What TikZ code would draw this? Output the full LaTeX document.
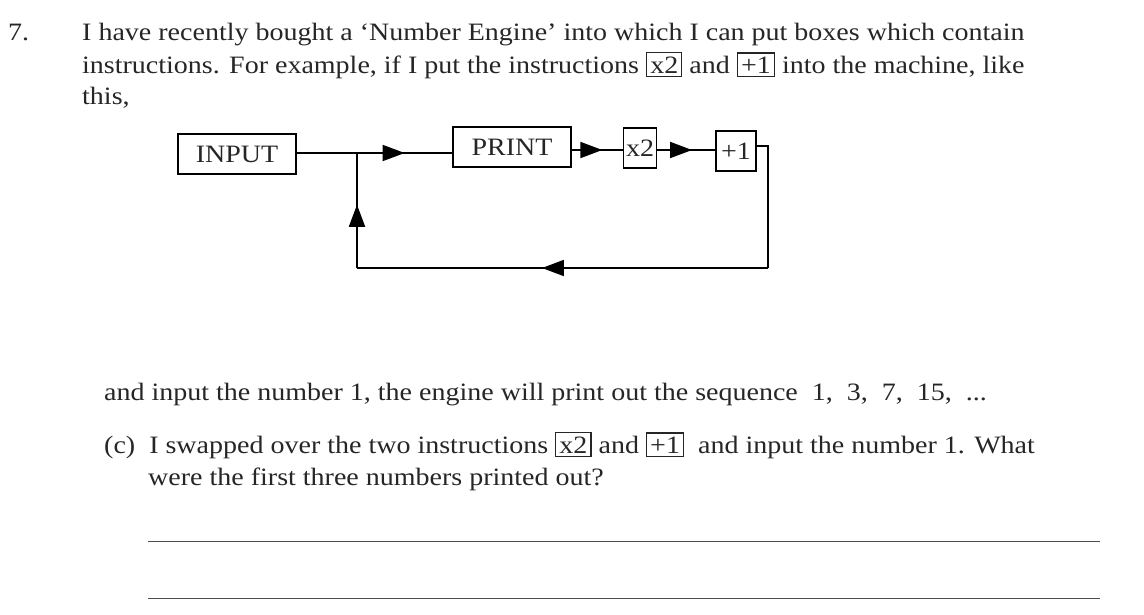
\documentclass[tikz,border=0pt]{standalone}
\usepackage{fontspec}
\setmainfont[FakeStretch=1.12]{Liberation Serif}
\usetikzlibrary{decorations.markings,arrows.meta}
\newcommand{\ibox}[1]{{\setlength{\fboxsep}{3pt}\setlength{\fboxrule}{1.2pt}\fbox{#1}}}
\begin{document}
\begin{tikzpicture}[x=1pt,y=-1pt,
  txt/.style={anchor=base west,inner sep=0pt,font=\fontsize{25}{30}\selectfont,text=black!85},
  bx/.style={draw,line width=1.4pt,minimum height=40pt,inner sep=0pt,font=\fontsize{25}{30}\selectfont,text=black!85},
  wire/.style={line width=1.8pt},
  mid/.style={postaction={decorate},decoration={markings,mark=at position #1 with {\arrow{Triangle[length=22pt,width=16pt]}}}}]
\useasboundingbox (0,0) rectangle (1144,614);
\node[txt] (n7) at (8,40) {7.};
\node[txt] (l1) at (82,40) {I have recently bought a `Number Engine' into which I can put boxes which contain};
\node[txt] (l2) at (82,73) {instructions. For example, if I put the instructions \ibox{x2} and \ibox{+1} into the machine, like};
\node[txt] (l3) at (82,104) {this,};
\node[bx,minimum width=118pt] (in) at (237,154) {INPUT};
\node[bx,minimum width=118pt] (pr) at (512,147) {PRINT};
\node[bx,minimum width=33pt] (x2) at (640,148) {x2};
\node[bx,minimum width=40pt] (p1) at (736,151) {+1};
\coordinate (j) at (357,153);
\coordinate (r) at (768,146);
\coordinate (br) at (768,268);
\coordinate (bl) at (357,268);
\draw[wire] (in.east |- j) -- (j);
\draw[wire,mid=0.5] (j) -- (pr.west |- j);
\draw[wire,mid=0.6] (pr.east |- 0,150) -- (x2.west |- 0,150);
\draw[wire,mid=0.6] (x2.east |- 0,150) -- (p1.west |- 0,150);
\draw[wire] (p1.east |- r) -- (r) -- (br);
\draw[wire,mid=0.55] (br) -- (bl);
\draw[wire,mid=0.55] (bl) -- (j);
\node[txt] (l4) at (104,400) {and input the number 1, the engine will print out the sequence\ \ 1,\ \ 3,\ \ 7,\ \ 15,\ \ ...};
\node[txt] (l5) at (104,453) {(c)\ \ I swapped over the two instructions \ibox{x2}\ and \ibox{+1}\ \ and input the number 1. What};
\node[txt] (l6) at (148,485) {were the first three numbers printed out?};
\coordinate (a1) at (148,541); \coordinate (a2) at (1100,541);
\coordinate (b1) at (148,598); \coordinate (b2) at (1100,598);
\draw[line width=1pt,black!70] (a1) -- (a2);
\draw[line width=1pt,black!70] (b1) -- (b2);
\end{tikzpicture}
\end{document}
